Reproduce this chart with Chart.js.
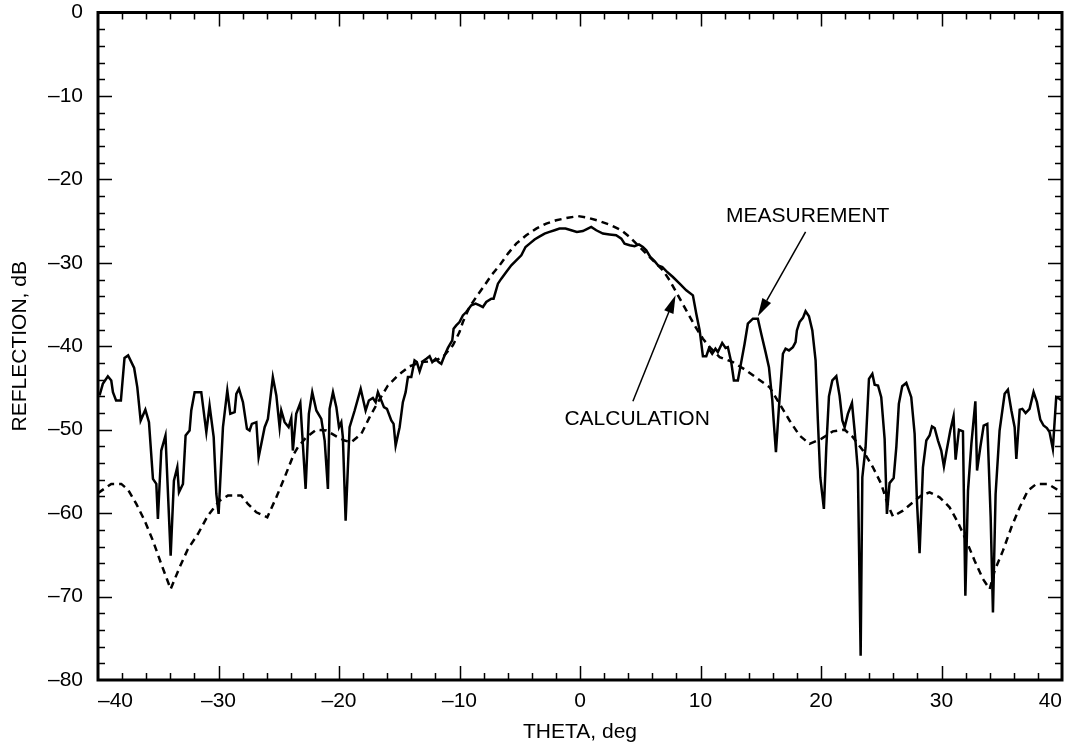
<!DOCTYPE html>
<html>
<head>
<meta charset="utf-8">
<script src="https://cdn.jsdelivr.net/npm/chart.js@4.4.1/dist/chart.umd.min.js"></script>
<style>
  body { margin: 0; background: #fff; }
  #wrap { width: 1073px; height: 749px; position: relative; }
</style>
</head>
<body>
<div id="wrap"><canvas id="myChart"></canvas></div>
<script>
// measured reflection (solid)
const measTheta = [
  -39.87, -39.6, -39.18, -38.9, -38.76, -38.5, -38.1, -37.8, -37.5, -37.0,
  -36.74, -36.46, -36.07, -35.77, -35.44, -35.16, -35.03, -34.75, -34.4, -33.97,
  -33.7, -33.42, -33.28, -32.95, -32.73, -32.4, -32.26, -31.98, -31.43, -31.01,
  -30.74, -30.4, -30.18, -29.99, -29.63, -29.27, -29.02, -28.66, -28.52, -28.3,
  -27.97, -27.64, -27.42, -27.23, -26.86, -26.67, -26.17, -25.9, -25.49, -25.2,
  -24.93, -24.79, -24.51, -24.18, -23.96, -23.83, -23.55, -23.21, -22.77, -22.5,
  -22.22, -21.88, -21.47, -21.19, -20.92, -20.78, -20.5, -20.22, -20.0, -19.81,
  -19.68, -19.45, -19.12, -18.7, -18.2, -17.79, -17.52, -17.19, -16.96, -16.77,
  -16.49, -16.27, -16.02, -15.66, -15.47, -15.3, -14.97, -14.7, -14.47, -14.28,
  -14.0, -13.73, -13.54, -13.31, -13.04, -12.75, -12.48, -12.26, -11.98, -11.73,
  -11.51, -11.24, -10.96, -10.6, -10.49, -10.27, -10.0, -9.72, -9.44, -9.02,
  -8.66, -8.33, -8.06, -7.78, -7.36, -7.17, -6.81, -6.53, -6.12, -5.7,
  -5.29, -4.87, -4.52, -4.18, -3.77, -3.41, -2.94, -2.53, -2.11, -1.7,
  -1.2, -0.73, -0.26, 0.24, 0.65, 0.93, 1.35, 1.9, 2.45, 3.0,
  3.43, 3.7, 4.12, 4.53, 4.89, 5.22, 5.5, 5.83, 6.19, 6.47,
  6.83, 7.16, 7.71, 8.27, 8.82, 9.37, 9.65, 9.93, 10.2, 10.48,
  10.69, 10.97, 11.24, 11.44, 11.8, 12.08, 12.27, 12.55, 12.77, 13.1,
  13.38, 13.66, 13.93, 14.35, 14.76, 15.04, 15.4, 15.68, 15.96, 16.07,
  16.26, 16.51, 16.84, 17.06, 17.34, 17.67, 17.89, 18.0, 18.22, 18.5,
  18.72, 19.0, 19.28, 19.55, 19.74, 19.94, 20.24, 20.44, 20.66, 20.94,
  21.27, 21.54, 21.77, 21.96, 22.23, 22.57, 22.79, 23.06, 23.29, 23.43,
  23.7, 23.98, 24.26, 24.45, 24.73, 25.0, 25.28, 25.47, 25.69, 26.03,
  26.25, 26.46, 26.74, 27.08, 27.49, 27.77, 27.96, 28.18, 28.46, 28.74,
  29.01, 29.21, 29.43, 29.71, 29.98, 30.2, 30.4, 30.73, 31.0, 31.17,
  31.45, 31.78, 31.98, 32.2, 32.48, 32.81, 32.95, 33.22, 33.5, 33.8,
  34.08, 34.27, 34.49, 34.82, 35.24, 35.51, 35.8, 36.07, 36.21, 36.49,
  36.71, 36.98, 37.31, 37.64, 37.92, 38.2, 38.47, 38.75, 38.97, 39.24,
  39.52, 39.8, 39.94
];
const measDb = [
  -45.9, -44.5, -43.6, -44.1, -45.5, -46.5, -46.5, -41.4, -41.1, -42.6,
  -44.9, -48.9, -47.6, -49.1, -55.9, -56.5, -60.7, -52.5, -50.7, -65.1,
  -56.1, -54.5, -57.5, -56.5, -50.7, -50.1, -47.7, -45.5, -45.5, -50.3,
  -47.1, -50.9, -57.7, -60.1, -49.7, -45.3, -48.1, -47.9, -45.7, -45.1,
  -46.7, -49.9, -50.1, -49.3, -49.1, -53.3, -49.7, -48.7, -43.7, -45.9,
  -49.7, -47.7, -49.1, -49.7, -48.6, -52.5, -48.1, -46.8, -57.1, -48.1,
  -45.5, -47.7, -48.7, -51.3, -57.1, -47.5, -45.5, -47.3, -49.7, -49.1,
  -50.9, -60.9, -49.7, -47.7, -45.1, -47.7, -46.5, -46.2, -46.7, -45.5,
  -46.5, -47.3, -47.5, -48.9, -49.3, -51.9, -49.7, -46.7, -45.5, -43.7,
  -43.7, -41.7, -41.9, -43.0, -41.8, -41.5, -41.2, -41.9, -41.5, -41.9,
  -42.1, -41.1, -40.2, -39.3, -37.9, -37.5, -37.1, -36.3, -35.9, -35.1,
  -34.9, -35.1, -35.3, -34.7, -34.3, -34.3, -32.5, -31.9, -31.1, -30.3,
  -29.7, -29.1, -28.1, -27.7, -27.2, -26.9, -26.5, -26.3, -26.1, -25.9,
  -25.9, -26.1, -26.3, -26.2, -25.9, -25.7, -26.1, -26.5, -26.6, -26.7,
  -27.1, -27.7, -27.9, -28.0, -27.8, -28.1, -28.5, -29.3, -29.8, -30.3,
  -30.5, -31.0, -31.7, -32.5, -33.3, -33.9, -36.1, -38.1, -41.2, -41.2,
  -40.3, -40.9, -40.3, -40.7, -39.6, -40.2, -40.1, -41.9, -44.1, -44.1,
  -41.9, -39.7, -37.3, -36.7, -36.7, -38.5, -40.7, -42.5, -46.5, -48.9,
  -52.7, -47.3, -40.9, -40.3, -40.5, -40.1, -39.5, -38.1, -37.1, -36.6,
  -35.8, -36.4, -38.1, -41.7, -48.9, -55.7, -59.5, -52.1, -46.0, -44.1,
  -43.6, -45.9, -48.9, -49.7, -48.1, -46.8, -50.1, -54.9, -77.1, -55.7,
  -52.1, -43.9, -43.3, -44.6, -44.7, -46.1, -51.1, -60.1, -56.4, -55.8,
  -52.1, -46.9, -44.8, -44.4, -46.1, -50.5, -58.5, -64.8, -54.5, -51.3,
  -50.7, -49.6, -49.8, -51.3, -52.5, -54.4, -52.7, -50.1, -48.4, -53.6,
  -50.0, -50.2, -69.9, -57.3, -51.7, -46.6, -54.9, -52.1, -49.5, -49.3,
  -60.5, -71.9, -57.7, -50.1, -45.7, -45.2, -47.7, -49.7, -53.5, -47.6,
  -47.5, -48.0, -47.5, -45.5, -46.7, -48.8, -49.5, -49.8, -50.3, -52.3,
  -46.1, -46.3, -46.5
];

// calculated reflection (dashed)
const calcTheta = [
  -40.0, -38.9, -38.07, -37.5, -36.82, -36.13, -35.44, -34.75, -33.97, -33.23,
  -32.54, -31.71, -30.88, -29.91, -29.22, -28.11, -27.56, -26.86, -25.95, -25.2,
  -24.51, -23.74, -23.41, -22.71, -21.88, -21.05, -20.22, -19.54, -18.98, -18.15,
  -17.46, -16.77, -15.94, -15.11, -14.14, -13.17, -12.2, -11.38, -10.55, -10.0,
  -9.72, -9.17, -8.61, -7.92, -7.36, -6.67, -5.98, -5.29, -4.46, -3.63,
  -2.8, -1.97, -1.0, -0.17, 0.65, 1.62, 2.59, 3.43, 4.12, 4.81,
  5.5, 6.19, 6.88, 7.44, 8.13, 8.82, 9.51, 10.2, 10.89, 11.59,
  12.69, 13.8, 14.76, 15.73, 16.56, 17.39, 18.22, 19.05, 20.02, 20.98,
  21.96, 22.65, 23.48, 24.31, 25.0, 25.55, 25.97, 26.8, 27.63, 28.32,
  29.01, 29.84, 30.67, 31.36, 32.06, 32.75, 33.44, 34.0, 34.41, 35.1,
  35.8, 36.49, 37.17, 37.87, 38.83, 39.52, 40.0
];
const calcDb = [
  -57.6, -56.5, -56.5, -57.2, -58.9, -60.9, -63.3, -66.1, -69.1, -66.5,
  -64.3, -62.5, -60.3, -58.5, -57.9, -57.9, -58.9, -59.9, -60.5, -58.1,
  -55.7, -52.9, -52.1, -50.9, -50.0, -50.1, -50.8, -51.3, -51.5, -50.5,
  -48.5, -46.7, -44.7, -43.5, -42.4, -41.9, -41.8, -41.3, -39.9, -38.3,
  -37.1, -35.3, -34.1, -32.7, -31.5, -30.3, -28.9, -27.7, -26.7, -25.9,
  -25.3, -24.9, -24.6, -24.4, -24.6, -25.0, -25.5, -26.1, -26.9, -27.9,
  -28.9, -29.9, -30.9, -32.1, -33.9, -35.7, -37.5, -39.1, -40.3, -41.3,
  -41.9, -42.9, -43.9, -44.9, -46.9, -48.9, -50.7, -51.7, -51.1, -50.2,
  -50.0, -50.9, -52.5, -54.5, -56.5, -59.0, -60.4, -59.7, -58.7, -57.9,
  -57.5, -58.1, -59.3, -61.1, -63.3, -65.7, -67.9, -69.1, -66.9, -64.5,
  -61.7, -59.3, -57.3, -56.5, -56.5, -57.1, -57.7
];

// callout labels, in data units
const notes = [
  { text: 'MEASUREMENT', tx: 18.9, ty: -24.4, x1: 18.72, y1: -26.3, x2: 14.76, y2: -36.4 },
  { text: 'CALCULATION', tx: 4.74, ty: -48.8, x1: 4.39, y1: -46.6, x2: 7.93, y2: -33.9 }
];

const ctx = document.getElementById('myChart');
const fontFam = '"Liberation Sans", Arial, Helvetica, sans-serif';
Chart.defaults.font.family = fontFam;
Chart.defaults.color = '#000';

const minus = v => (v < 0 ? '\u2013' + Math.abs(v) : String(v));

const framePlugin = {
  id: 'frame',
  afterDatasetsDraw(chart) {
    const { ctx: c, chartArea: a, scales } = chart;
    const xs = scales.x, ys = scales.y;
    c.save();
    c.strokeStyle = '#000';
    c.lineWidth = 1.5;
    c.beginPath();
    for (let v = -38; v <= 38; v += 2) {
      const p = Math.round(xs.getPixelForValue(v)) + 0.5;
      const len = v % 10 === 0 ? 14 : 7;
      c.moveTo(p, a.bottom); c.lineTo(p, a.bottom - len);
      c.moveTo(p, a.top); c.lineTo(p, a.top + len);
    }
    for (let v = -78; v <= -2; v += 2) {
      const p = Math.round(ys.getPixelForValue(v)) + 0.5;
      const len = v % 10 === 0 ? 14 : 7;
      c.moveTo(a.left, p); c.lineTo(a.left + len, p);
      c.moveTo(a.right, p); c.lineTo(a.right - len, p);
    }
    c.stroke();
    c.lineWidth = 3;
    c.strokeRect(a.left, a.top, a.right - a.left, a.bottom - a.top);

    // callouts
    c.font = '21px ' + fontFam;
    c.fillStyle = '#000';
    c.textAlign = 'center';
    c.textBaseline = 'middle';
    notes.forEach(n => {
      c.fillText(n.text, xs.getPixelForValue(n.tx), ys.getPixelForValue(n.ty));
      const x1 = xs.getPixelForValue(n.x1), y1 = ys.getPixelForValue(n.y1);
      const x2 = xs.getPixelForValue(n.x2), y2 = ys.getPixelForValue(n.y2);
      const ang = Math.atan2(y2 - y1, x2 - x1);
      const hl = 18, hw = 5;
      const bx = x2 - hl * Math.cos(ang), by = y2 - hl * Math.sin(ang);
      c.lineWidth = 1.5;
      c.beginPath();
      c.moveTo(x1, y1); c.lineTo(bx, by);
      c.stroke();
      c.beginPath();
      c.moveTo(x2, y2);
      c.lineTo(bx + hw * Math.sin(ang), by - hw * Math.cos(ang));
      c.lineTo(bx - hw * Math.sin(ang), by + hw * Math.cos(ang));
      c.closePath();
      c.fill();
    });
    c.restore();
  }
};

new Chart(ctx, {
  type: 'line',
  data: {
    datasets: [{
      label: 'Measurement',
      data: measTheta.map((t, i) => ({ x: t, y: measDb[i] })),
      borderColor: '#000',
      borderWidth: 2.5,
      pointRadius: 0,
      tension: 0
    }, {
      label: 'Calculation',
      data: calcTheta.map((t, i) => ({ x: t, y: calcDb[i] })),
      borderColor: '#000',
      borderWidth: 2.5,
      borderDash: [7, 5],
      pointRadius: 0,
      tension: 0
    }]
  },
  options: {
    responsive: true,
    maintainAspectRatio: false,
    animation: false,
    layout: { padding: { top: 0, right: 11, left: 0, bottom: 0 } },
    plugins: { legend: { display: false }, tooltip: { enabled: false } },
    scales: {
      x: {
        type: 'linear',
        min: -40, max: 40,
        grid: { display: false, drawTicks: false },
        border: { display: false },
        ticks: { stepSize: 10, align: 'inner', padding: 9, font: { size: 21 }, callback: minus },
        title: { display: true, text: 'THETA, deg', font: { size: 21 }, padding: { top: 0, bottom: 4 } },
        afterFit(scale) { scale.height = 69; scale.paddingLeft = 0; scale.paddingRight = 0; }
      },
      y: {
        min: -80, max: 0,
        grid: { display: false, drawTicks: false },
        border: { display: false },
        ticks: { stepSize: 10, padding: 15, font: { size: 21 }, callback: minus },
        title: { display: true, text: 'REFLECTION, dB', font: { size: 21 }, padding: { top: 8, bottom: 0 } },
        afterFit(scale) { scale.width = 98; scale.paddingTop = 12.5; scale.paddingBottom = 0; }
      }
    }
  },
  plugins: [framePlugin]
});
</script>
</body>
</html>
